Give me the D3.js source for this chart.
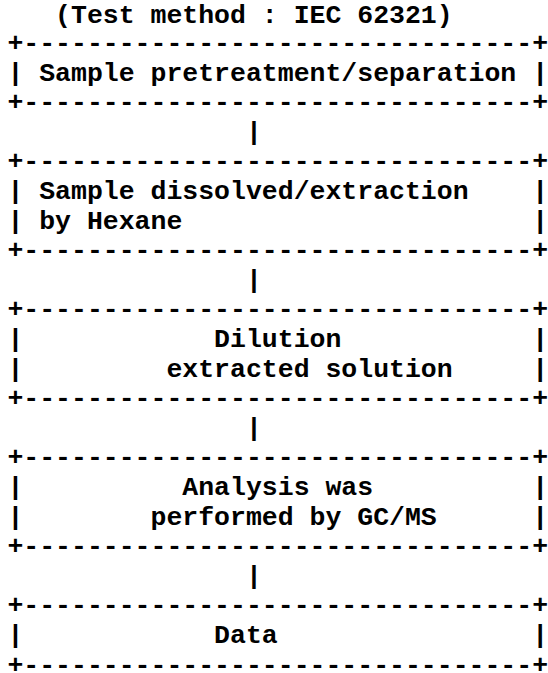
<!DOCTYPE html>
<html>
<head>
<meta charset="utf-8">
<script src="https://cdn.jsdelivr.net/npm/d3@7"></script>
<style>
  html, body { margin: 0; padding: 0; background: #fff; }
  svg { display: block; }
</style>
</head>
<body>
<script>
// ---- data ----
const titleText = "(Test method : IEC 62321)";
const titleCol = 3;
const boxLabels = [
  ["Sample pretreatment/separation"],
  ["Sample dissolved/extraction", "by Hexane"],
  ["Dilution", "extracted solution"],
  ["Analysis was", "performed by GC/MS"],
  ["Data"]
];
const labelCols = [
  [2],
  [2, 2],
  [13, 10],
  [11, 9],
  [13]
];
const boxWidthChars = 34;
const connectorCol = 15;

// ---- build ascii lines ----
const lines = [];
lines.push(" ".repeat(titleCol) + titleText);
const border = "+" + "-".repeat(boxWidthChars - 2) + "+";
boxLabels.forEach((labels, bi) => {
  if (bi > 0) lines.push(" ".repeat(connectorCol) + "|");
  lines.push(border);
  labels.forEach((lab, li) => {
    let s = "|" + " ".repeat(labelCols[bi][li] - 1) + lab;
    s = s.padEnd(boxWidthChars - 1, " ") + "|";
    lines.push(s);
  });
  lines.push(border);
});

// ---- draw ----
const W = 548, H = 673;
const fontSize = 26.5;
const adv = fontSize * 0.6;
const svg = d3.select("body").append("svg").attr("width", W).attr("height", H);
const x = d3.scaleLinear().domain([0, boxWidthChars]).range([7.4, 7.4 + adv * boxWidthChars]);
const y = d3.scaleLinear().domain([1, lines.length - 1]).range([51, 51 + 29.6 * (lines.length - 2)]);

svg.append("g").selectAll("text").data(lines).join("text")
  .attr("x", x(0))
  .attr("y", (d, i) => i === 0 ? y(0) + 2 : y(i))
  .style("white-space", "pre")
  .attr("xml:space", "preserve")
  .attr("font-family", "'Liberation Mono', 'Courier New', monospace")
  .attr("font-weight", "bold")
  .attr("font-size", fontSize + "px")
  .attr("fill", "#000")
  .text(d => d);
</script>
</body>
</html>
